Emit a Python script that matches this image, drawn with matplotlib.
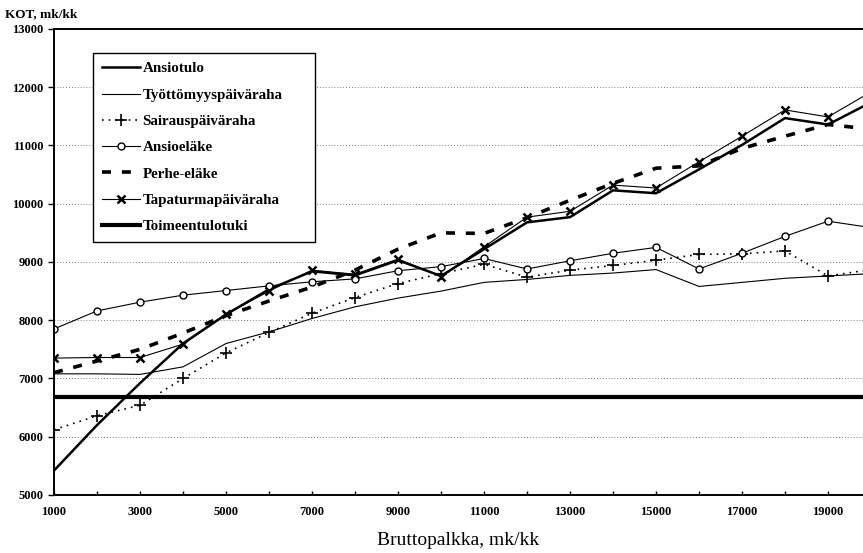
import numpy as np
import matplotlib.pyplot as plt
from matplotlib.ticker import MultipleLocator, FixedLocator

plt.rcParams['font.family'] = ['Liberation Serif', 'DejaVu Serif']

# ---- Data (mk/kk) ----
palkka = [1000, 2000, 3000, 4000, 5000, 6000, 7000, 8000, 9000, 10000,
          11000, 12000, 13000, 14000, 15000, 16000, 17000, 18000, 19000, 20000]
ansiotulo = [5420, 6200, 6920, 7600, 8100, 8530, 8840, 8770, 9030, 8760,
             9220, 9680, 9770, 10230, 10180, 10590, 11010, 11470, 11360, 11740]
tyottomyys = [7080, 7080, 7070, 7200, 7600, 7800, 8030, 8230, 8380, 8500,
              8650, 8700, 8770, 8810, 8870, 8580, 8650, 8720, 8760, 8800]
sairaus = [6120, 6360, 6540, 7000, 7440, 7790, 8120, 8390, 8630, 8800,
           8960, 8740, 8860, 8940, 9030, 9130, 9140, 9190, 8760, 8870]
ansioelake = [7850, 8160, 8310, 8430, 8510, 8590, 8660, 8710, 8850, 8920,
              9060, 8880, 9020, 9150, 9250, 8880, 9150, 9440, 9700, 9590]
perhe = [7100, 7300, 7500, 7780, 8080, 8330, 8570, 8860, 9220, 9500,
         9490, 9760, 10060, 10350, 10610, 10650, 10950, 11160, 11360, 11280]
tapaturma = [7350, 7360, 7360, 7590, 8100, 8500, 8860, 8790, 9050, 8750,
             9260, 9770, 9870, 10320, 10270, 10720, 11160, 11610, 11490, 11920]
toimeentulo = [6690] * len(palkka)

# ---- Plotting ----
fig = plt.figure(figsize=(8.63, 5.53), dpi=100)
ax = fig.add_axes([0.0626, 0.1049, 0.9467, 0.8427])

ax.plot(palkka, ansiotulo, color='black', lw=1.8, label='Ansiotulo')
ax.plot(palkka, tyottomyys, color='black', lw=0.8, label='Työttömyyspäiväraha')
ax.plot(palkka, sairaus, color='black', lw=1.2, linestyle=(0, (1, 3)),
        marker='+', markersize=8, markeredgewidth=1.2, label='Sairauspäiväraha')
ax.plot(palkka, ansioelake, color='black', lw=0.8, marker='o', markersize=5,
        markerfacecolor='white', markeredgewidth=1.0, label='Ansioeläke')
ax.plot(palkka, perhe, color='black', lw=2.6, linestyle=(0, (2.5, 3)),
        label='Perhe-eläke')
ax.plot(palkka, tapaturma, color='black', lw=0.8, marker='x', markersize=6,
        markeredgewidth=1.8, label='Tapaturmapäiväraha')
ax.plot(palkka, toimeentulo, color='black', lw=3.0, label='Toimeentulotuki')

ax.set_xlim(1000, 20000)
ax.set_ylim(5000, 13000)
ax.yaxis.set_major_locator(MultipleLocator(1000))
ax.xaxis.set_major_locator(FixedLocator(palkka[::2]))
ax.xaxis.set_minor_locator(MultipleLocator(1000))
ax.tick_params(axis='x', which='both', direction='in', length=3, width=1,
               labelsize=9, pad=8)
ax.tick_params(axis='y', direction='out', length=4, width=1, labelsize=9)
for lab in ax.get_xticklabels() + ax.get_yticklabels():
    lab.set_fontweight('bold')

# dotted horizontal grid
ax.grid(axis='y', color='#555555', linestyle=(0, (1, 2.5)), lw=0.6)
for side in ['left', 'bottom', 'top', 'right']:
    ax.spines[side].set_linewidth(1.4)

# legend box spans roughly x 93..315 px, top at 53 px
leg = ax.legend(loc='upper left',
                bbox_to_anchor=(93 / 863, 1 - 240 / 553, 222 / 863, 187 / 553),
                bbox_transform=fig.transFigure, borderaxespad=0, mode='expand',
                fancybox=False, framealpha=1, edgecolor='black',
                handlelength=2.5, handletextpad=0.2, labelspacing=0.85,
                borderpad=0.6, prop={'size': 10.8, 'weight': 'bold'})
leg.get_frame().set_linewidth(1.0)

fig.text(5 / 863, 1 - 14 / 553, 'KOT, mk/kk', fontsize=9.5, fontweight='bold',
         va='center', ha='left')
ax.set_xlabel('Bruttopalkka, mk/kk', fontsize=14)
ax.xaxis.set_label_coords(0.5 * (863 - 54) / 817, -0.08)

fig.savefig('out.png', dpi=100)
